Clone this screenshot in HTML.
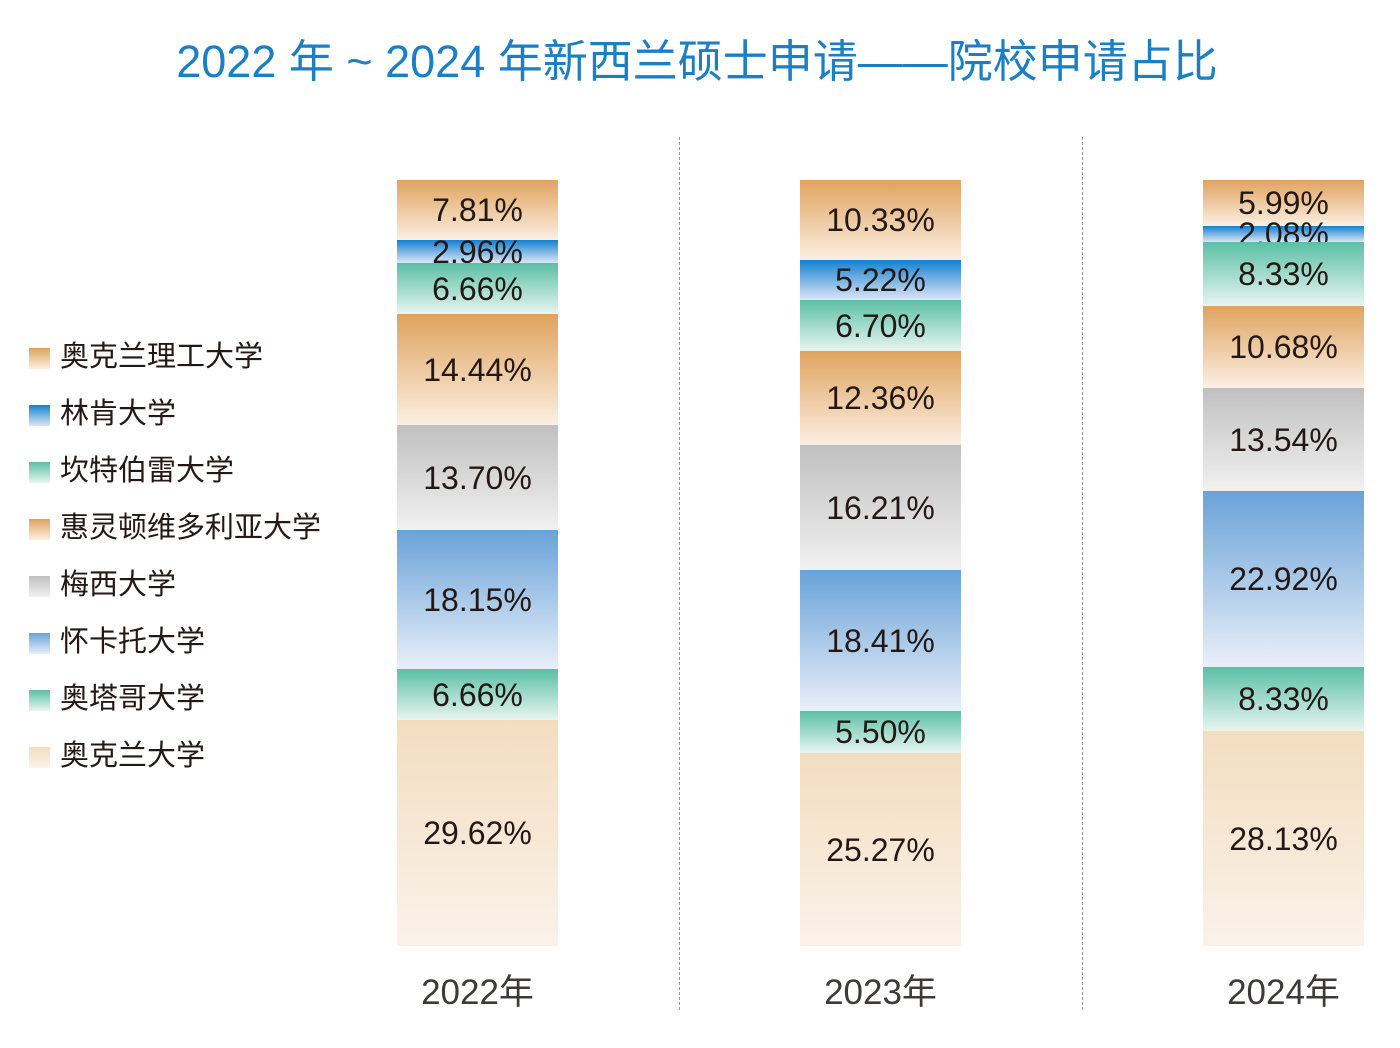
<!DOCTYPE html>
<html><head><meta charset="utf-8"><style>
body{margin:0;width:1400px;height:1048px;background:#fff;position:relative;overflow:hidden;font-family:"Liberation Sans","Noto Sans CJK SC",sans-serif;}
.t{position:absolute;left:0;width:1394px;top:25px;text-align:center;font-size:45px;color:#1b7fc5;white-space:nowrap;}
.s{position:absolute;display:flex;align-items:center;justify-content:center;font-size:32px;color:#231815;line-height:1;}
.o{background:linear-gradient(#e0a35f,#fbefe3);}
.b{background:linear-gradient(#1280d0,#dde6f6);}
.g{background:linear-gradient(#5bbfa5,#e8f5f1);}
.y{background:linear-gradient(#c0c0c0,#f1f1f1);}
.w{background:linear-gradient(#6aa2d8,#e9eff9);}
.a{background:linear-gradient(#f3ddc0,#faf2ea);}
.d{position:absolute;top:137px;height:873px;border-left:1px dashed #999;}
.yr{position:absolute;top:975px;width:161px;text-align:center;font-size:35px;color:#3e3a39;line-height:1;}
.lg{position:absolute;left:29px;width:21px;height:21px;}
.lt{position:absolute;left:60px;font-size:29px;color:#231815;line-height:1;}
</style></head><body>
<div class="t">2022 年 ~ 2024 年新西兰硕士申请——院校申请占比</div>
<div class="d" style="left:679px"></div>
<div class="d" style="left:1082px"></div>

<div class="s o" style="left:397px;width:161px;top:180px;height:60px">7.81%</div>
<div class="s b" style="left:397px;width:161px;top:240px;height:23px">2.96%</div>
<div class="s g" style="left:397px;width:161px;top:263px;height:51px">6.66%</div>
<div class="s o" style="left:397px;width:161px;top:314px;height:111px">14.44%</div>
<div class="s y" style="left:397px;width:161px;top:425px;height:105px">13.70%</div>
<div class="s w" style="left:397px;width:161px;top:530px;height:139px">18.15%</div>
<div class="s g" style="left:397px;width:161px;top:669px;height:51px">6.66%</div>
<div class="s a" style="left:397px;width:161px;top:720px;height:226px">29.62%</div>

<div class="s o" style="left:800px;width:161px;top:180px;height:80px">10.33%</div>
<div class="s b" style="left:800px;width:161px;top:260px;height:40px">5.22%</div>
<div class="s g" style="left:800px;width:161px;top:300px;height:51px">6.70%</div>
<div class="s o" style="left:800px;width:161px;top:351px;height:94px">12.36%</div>
<div class="s y" style="left:800px;width:161px;top:445px;height:125px">16.21%</div>
<div class="s w" style="left:800px;width:161px;top:570px;height:141px">18.41%</div>
<div class="s g" style="left:800px;width:161px;top:711px;height:42px">5.50%</div>
<div class="s a" style="left:800px;width:161px;top:753px;height:193px">25.27%</div>

<div class="s o" style="left:1203px;width:161px;top:180px;height:46px">5.99%</div>
<div class="s b" style="left:1203px;width:161px;top:226px;height:16px">2.08%</div>
<div class="s g" style="left:1203px;width:161px;top:242px;height:64px">8.33%</div>
<div class="s o" style="left:1203px;width:161px;top:306px;height:82px">10.68%</div>
<div class="s y" style="left:1203px;width:161px;top:388px;height:103px">13.54%</div>
<div class="s w" style="left:1203px;width:161px;top:491px;height:176px">22.92%</div>
<div class="s g" style="left:1203px;width:161px;top:667px;height:64px">8.33%</div>
<div class="s a" style="left:1203px;width:161px;top:731px;height:215px">28.13%</div>

<div class="yr" style="left:397px">2022年</div>
<div class="yr" style="left:800px">2023年</div>
<div class="yr" style="left:1203px">2024年</div>

<div class="lg o" style="top:348px"></div><div class="lt" style="top:343px">奥克兰理工大学</div>
<div class="lg b" style="top:405px"></div><div class="lt" style="top:400px">林肯大学</div>
<div class="lg g" style="top:462px"></div><div class="lt" style="top:457px">坎特伯雷大学</div>
<div class="lg o" style="top:519px"></div><div class="lt" style="top:514px">惠灵顿维多利亚大学</div>
<div class="lg y" style="top:576px"></div><div class="lt" style="top:571px">梅西大学</div>
<div class="lg w" style="top:633px"></div><div class="lt" style="top:628px">怀卡托大学</div>
<div class="lg g" style="top:690px"></div><div class="lt" style="top:685px">奥塔哥大学</div>
<div class="lg a" style="top:747px"></div><div class="lt" style="top:742px">奥克兰大学</div>
</body></html>
